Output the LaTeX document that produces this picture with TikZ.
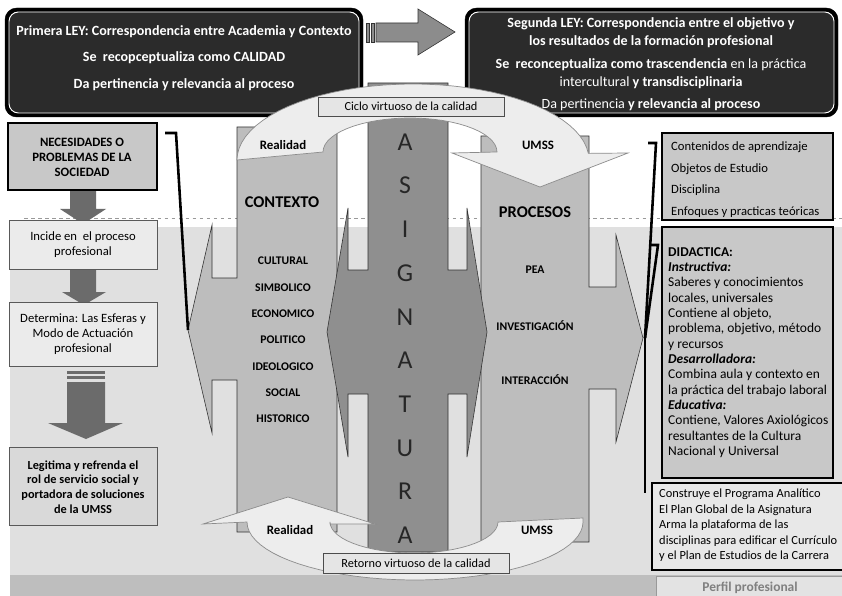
\documentclass[tikz,border=0pt]{standalone}
\usepackage{fontspec}
\setmainfont{Carlito}

\definecolor{lawfill}{HTML}{2B2B2B}
\definecolor{bgfloor}{HTML}{E0E0E0}
\definecolor{bgband}{HTML}{BEBEBE}
\definecolor{colfill}{HTML}{BDBDBD}
\definecolor{asigfill}{HTML}{8F8F8F}
\definecolor{arcfill}{HTML}{EDEDED}
\definecolor{boxdark}{HTML}{C8C8C8}
\definecolor{boxlight}{HTML}{EBEBEB}
\definecolor{arrowgray}{HTML}{6B6B6B}

\begin{document}
\begin{tikzpicture}[x=0.03cm,y=-0.03cm,
	colbody/.style={fill=colfill,draw=black!80,line width=0.5pt},
	asigbody/.style={fill=asigfill,draw=black!80,line width=0.5pt},
	arcband/.style={fill=arcfill,draw=black!45,line width=0.6pt},
	labelbox/.style={fill=black!10,draw=black!70,line width=0.6pt},
	darkbox/.style={fill=boxdark,draw=black,line width=2pt},
	lightbox/.style={fill=boxlight,draw=black!65,line width=0.6pt},
	downarr/.style={fill=arrowgray},
	toparr/.style={fill=black!45,draw=black!80,line width=0.5pt},
	bracket/.style={draw=black,line width=2.2pt},
	lawtxt/.style={text=white,inner sep=0pt,font=\fontsize{12}{14}\selectfont},
	bigtxt/.style={inner sep=0pt,font=\fontsize{14}{16}\selectfont\bfseries},
	listtxt/.style={inner sep=0pt,font=\fontsize{10}{12}\selectfont\bfseries},
	tagtxt/.style={inner sep=0pt,font=\fontsize{11}{13}\selectfont\bfseries},
	asigtxt/.style={inner sep=0pt,text=black!85,font=\fontsize{22}{24}\selectfont},
	boxtxt/.style={inner sep=0pt,font=\fontsize{10.8}{12.75}\selectfont,align=center},
	]

% Background and floor
\fill[white] (0,0) rectangle (842,596);
\useasboundingbox (0,0) rectangle (842,596);
\fill[bgfloor] (10,227) rectangle (842,575);
\fill[bgband] (10,575) rectangle (842,596);
\draw[black!40,dashed,line width=0.4pt] (24,218) -- (842,218);

% Arrow between the two laws
\filldraw[toparr] (366,23) rectangle (369,42);
\filldraw[toparr] (371,23) rectangle (374,42);
\filldraw[toparr] (376,23) -- (418,23) -- (418,9) -- (455,32) -- (418,55) -- (418,42) -- (376,42) -- cycle;

% The two laws
\filldraw[fill=black,draw=black,rounded corners=10pt] (5,8) rectangle (363,117);
\filldraw[fill=lawfill,draw=white,line width=0.8pt,rounded corners=8pt] (9,12) rectangle (359,113);
\filldraw[fill=black,draw=black,rounded corners=10pt] (465,8) rectangle (838,117);
\filldraw[fill=lawfill,draw=white,line width=0.8pt,rounded corners=8pt] (469,12) rectangle (834,113);

% Context and processes
\draw[colbody] (337,127) -- (237,127) -- (237,278) -- (212,278) -- (212,225) -- (188,330)
  -- (212,433) -- (212,380) -- (237,380) -- (237,532) -- (337,532) -- cycle;
\draw[colbody] (481,136) -- (589,136) -- (589,287) -- (616,287) -- (616,235) -- (643,338)
  -- (616,442) -- (616,389) -- (589,389) -- (589,542) -- (481,542) -- cycle;

% The subject in the middle
\draw[asigbody] (368,83) -- (448,83) -- (448,270) -- (467,270) -- (467,208) -- (487,332)
  -- (467,457) -- (467,394) -- (448,394) -- (448,552) -- (368,552) -- (368,394)
  -- (348,394) -- (348,457) -- (327,332) -- (348,208) -- (348,270) -- (368,270) -- cycle;

% Cycle (top) and return (bottom)
\draw[arcband] (237,160) -- plot[domain=180:5,samples=40] ({413+176*cos(\x)},{160-76*sin(\x)})
  -- (628,153) -- (540,187) -- (452,153) -- (497,152)
  -- plot[domain=0:180,samples=30] ({410+87*cos(\x)},{152-34*sin(\x)}) -- cycle;
\draw[arcband] (203,524) -- (288,497) -- (375,524) -- (330,524)
  -- plot[domain=180:0,samples=30] ({414+84*cos(\x)},{522+31*sin(\x)})
  -- (583,518) -- plot[domain=0:180,samples=40] ({415+168*cos(\x)},{522+58*sin(\x)}) -- cycle;

\draw[labelbox] (318,97) rectangle (504,116);
\draw[labelbox] (323,553) rectangle (509,573);

% Left column
\fill[downarr] (70,190) -- (96,190) -- (96,209) -- (106,209) -- (83,224) -- (60,209) -- (70,209) -- cycle;
\fill[downarr] (70,269) -- (96,269) -- (96,292) -- (106,292) -- (84,305) -- (62,292) -- (70,292) -- cycle;
\fill[downarr] (67,371) rectangle (105,374);
\fill[downarr] (67,376) rectangle (105,379);
\fill[downarr] (67,382) -- (105,382) -- (105,423) -- (123,423) -- (86,439) -- (48,423) -- (67,423) -- cycle;
\draw[darkbox] (8,123) rectangle (157,190);
\draw[lightbox] (9,220) rectangle (157,269);
\draw[lightbox] (9,302) rectangle (157,366);
\draw[lightbox,fill=black!15] (9,447) rectangle (157,525);

% Right column
\draw[darkbox] (662,133) rectangle (833,220);
\draw[darkbox] (662,227) rectangle (833,478);
\draw[fill=black!9,draw=black,line width=1.4pt] (652,483) rectangle (850,570);
\draw[fill=black!11,draw=black!40,line width=0.6pt] (656,576) rectangle (850,600);

% Brackets
\draw[bracket] (165,133) -- (176,133) -- (188,330);
\draw[bracket] (648,143) -- (656,143) -- (645,338);
\draw[bracket] (650,245) -- (658,245) -- (645,338);
\draw[black,line width=1.6pt] (645,338) -- (645,493);

% Texts of the laws
\node[lawtxt] (ley1a) at (184,32) {\textbf{Primera LEY: Correspondencia entre Academia y Contexto}};
\node[lawtxt] (ley1b) at (184,58) {\textbf{Se\ \ recopceptualiza como CALIDAD}};
\node[lawtxt] (ley1c) at (184,85) {\textbf{Da pertinencia y relevancia al proceso}};
\node[lawtxt] (ley2a) at (651,24) {\textbf{Segunda LEY: Correspondencia entre el objetivo y}};
\node[lawtxt] (ley2b) at (651,42) {\textbf{los resultados de la formación profesional}};
\node[lawtxt] (ley2c) at (651,65) {\textbf{Se\ \ reconceptualiza como trascendencia} en la práctica};
\node[lawtxt] (ley2d) at (651,83) {intercultural \textbf{y transdisciplinaria}};
\node[lawtxt] (ley2e) at (651,105) {Da pertinencia \textbf{y relevancia al proceso}};

% Texts of the middle
\node[boxtxt,font=\fontsize{10.5}{12}\selectfont] (ciclo) at (411,106.5) {Ciclo virtuoso de la calidad};
\node[boxtxt,font=\fontsize{10.5}{12}\selectfont] (retorno) at (416,563) {Retorno virtuoso de la calidad};
\node[tagtxt] (real1) at (283,145) {Realidad};
\node[tagtxt] (umss1) at (538,145) {UMSS};
\node[tagtxt] (real2) at (290,530) {Realidad};
\node[tagtxt] (umss2) at (537,530) {UMSS};
\node[bigtxt] (contexto) at (282,202) {CONTEXTO};
\node[bigtxt] (procesos) at (535,212) {PROCESOS};
\foreach \word [count=\i] in {CULTURAL,SIMBOLICO,ECONOMICO,POLITICO,IDEOLOGICO,SOCIAL,HISTORICO}
  \node[listtxt] (ctx\i) at (283,{261+26.3*(\i-1)}) {\word};
\foreach \word/\yy [count=\i] in {PEA/270,INVESTIGACIÓN/326,INTERACCIÓN/380}
  \node[listtxt] (proc\i) at (535,\yy) {\word};
\foreach \letra [count=\i] in {A,S,I,G,N,A,T,U,R,A}
  \node[asigtxt] (asig\i) at (405,{142+43.7*(\i-1)}) {\letra};

% Texts of the left column
\node[boxtxt,font=\fontsize{10.9}{12.75}\selectfont\bfseries] (nec) at (82,157) {NECESIDADES O\\PROBLEMAS DE LA\\SOCIEDAD};
\node[boxtxt] (inc) at (83,245) {Incide en\ \ el proceso\\profesional};
\node[boxtxt] (det) at (83,334) {Determina: Las Esferas y\\Modo de Actuación\\profesional};
\node[boxtxt,font=\fontsize{10.5}{12.5}\selectfont\bfseries] (leg) at (83,487) {Legitima y refrenda el\\rol de servicio social y\\portadora de soluciones\\de la UMSS};

% Texts of the right column
\foreach \word [count=\i] in {Contenidos de aprendizaje,Objetos de Estudio,Disciplina,Enfoques y practicas teóricas}
  \node[boxtxt,anchor=west] (cont\i) at (671,{147+21.7*(\i-1)}) {\word};
\node[boxtxt,align=left,anchor=north west,font=\fontsize{11.5}{13.1}\selectfont] (did) at (668,247)
  {\textbf{DIDACTICA:}\\\textbf{\textit{Instructiva:}}\\Saberes y conocimientos\\locales, universales\\Contiene al objeto,\\problema, objetivo, método\\y recursos\\\textbf{\textit{Desarrolladora:}}\\Combina aula y contexto en\\la práctica del trabajo laboral\\\textbf{\textit{Educativa:}}\\Contiene, Valores Axiológicos\\resultantes de la Cultura\\Nacional y Universal};
\node[boxtxt,align=left,anchor=north west,font=\fontsize{10.6}{13.2}\selectfont] (cons) at (659,489)
  {Construye el Programa Analítico\\El Plan Global de la Asignatura\\Arma la plataforma de las\\disciplinas para edificar el Currículo\\y el Plan de Estudios de la Carrera};
\node[boxtxt,text=black!50,font=\fontsize{11.5}{13}\selectfont\bfseries] (perfil) at (750,588) {Perfil profesional};

\end{tikzpicture}
\end{document}
